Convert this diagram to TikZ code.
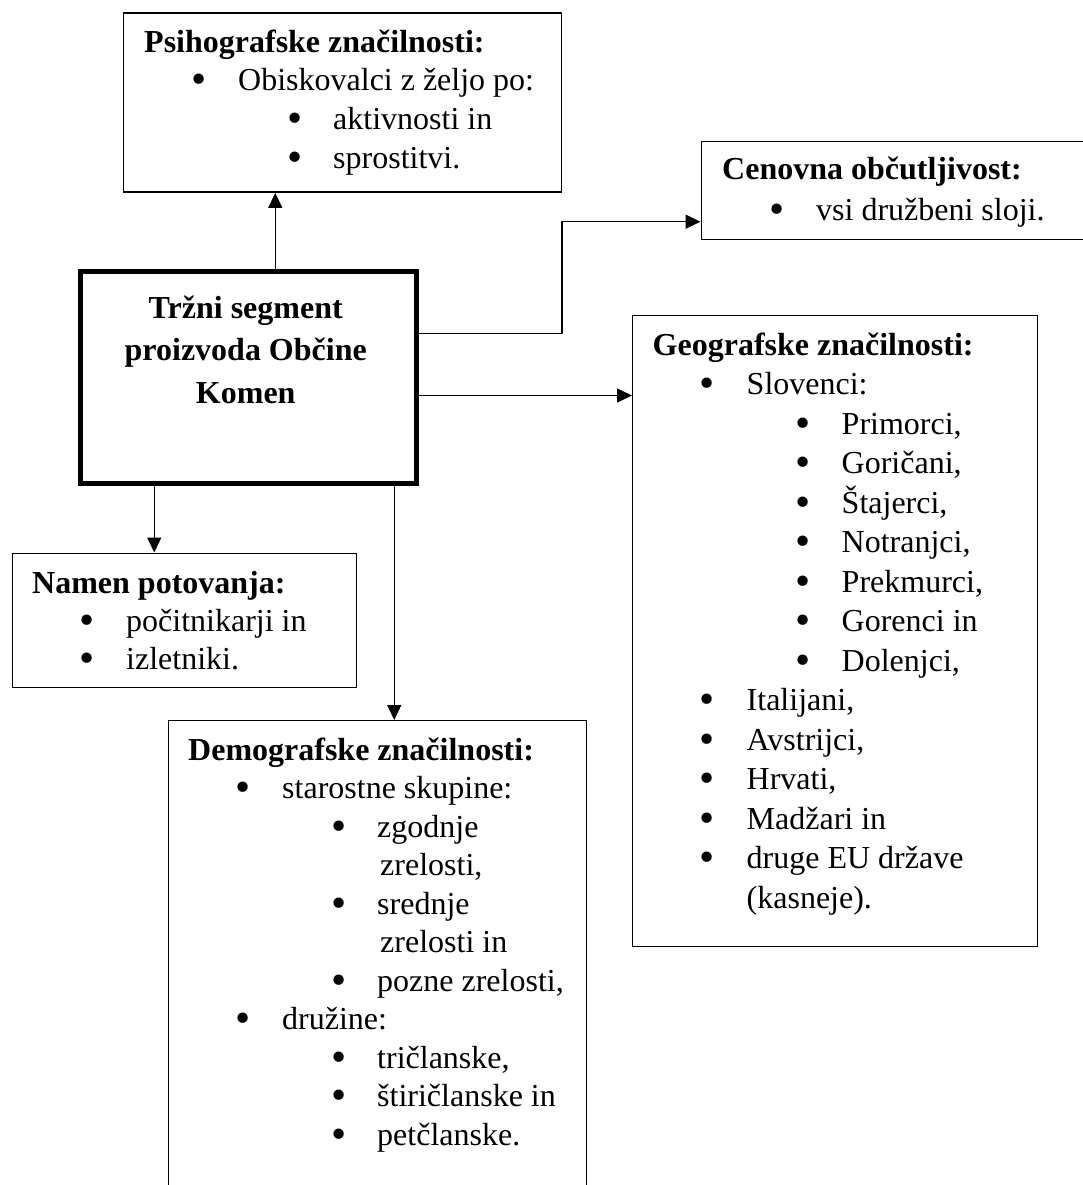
\documentclass[tikz,border=0pt]{standalone}
\usepackage{fontspec}
\usepackage{graphicx}
\setmainfont{Liberation Serif}
\usetikzlibrary{arrows.meta}

\tikzset{
    box/.style={draw, line width=1.4pt, inner sep=0pt, anchor=north west},
    bigbox/.style={draw, line width=5pt, inner sep=0pt, anchor=north west},
    txt/.style={anchor=base west, inner sep=0pt, align=left, font=\fontsize{32}{38.6}\selectfont},
    arr/.style={line width=1.4pt, -{Triangle[length=15pt,width=14pt]}}
}
\newcommand{\blt}{\smash{\raisebox{-3pt}{\scalebox{1.35}{•}}}}
\newcommand{\lvlone}[1]{\hspace*{47pt}\makebox[47pt][l]{\blt}#1}
\newcommand{\lvltwo}[1]{\hspace*{143pt}\makebox[46pt][l]{\blt}#1}

\begin{document}
\begin{tikzpicture}[x=1pt,y=-1pt]
        \useasboundingbox (0,0) rectangle (1083,1185);
        \node[box, minimum width=438pt, minimum height=179pt] (psiho) at (122.5,12.5) {};
        \node[box, minimum width=420pt, minimum height=98pt] (cenov) at (700.5,141) {};
        \node[bigbox, minimum width=335.5pt, minimum height=212pt] (tsp) at (78,268.5) {};
        \node[box, minimum width=405pt, minimum height=631pt] (geo) at (632,315) {};
        \node[box, minimum width=344pt, minimum height=134.5pt] (namen) at (11.5,552.5) {};
        \node[box, minimum width=418pt, minimum height=500pt] (demo) at (168,720) {};

        % text nodes sit on the baseline of their last line
        \node[txt] (psihoT) at (144,168) {\textbf{Psihografske značilnosti:}\\ \lvlone{Obiskovalci z željo po:}\\ \lvltwo{aktivnosti in}\\ \lvltwo{sprostitvi.}};
        \node[txt, font=\fontsize{32}{40}\selectfont] (cenovT) at (722,220) {\textbf{Cenovna občutljivost:}\\ \lvlone{vsi družbeni sloji.}};
        \node[anchor=base, inner sep=0pt, align=center, font=\bfseries\fontsize{32}{42.5}\selectfont] (tspT) at (245.75,403) {Tržni segment\\ proizvoda Občine\\ Komen};
        \node[txt, font=\fontsize{32}{39.5}\selectfont] (geoT) at (652.5,908) {\textbf{Geografske značilnosti:}\\ \lvlone{Slovenci:}\\
            \lvltwo{Primorci,}\\ \lvltwo{Goričani,}\\ \lvltwo{Štajerci,}\\ \lvltwo{Notranjci,}\\ \lvltwo{Prekmurci,}\\ \lvltwo{Gorenci in}\\ \lvltwo{Dolenjci,}\\
            \lvlone{Italijani,}\\ \lvlone{Avstrijci,}\\ \lvlone{Hrvati,}\\ \lvlone{Madžari in}\\ \lvlone{druge EU države}\\ \hspace*{94pt}(kasneje).};
        \node[txt, font=\fontsize{32}{38}\selectfont] (namenT) at (32,669) {\textbf{Namen potovanja:}\\ \lvlone{počitnikarji in}\\ \lvlone{izletniki.}};
        \node[txt, font=\fontsize{32}{38.5}\selectfont] (demoT) at (188,1145) {\textbf{Demografske značilnosti:}\\ \lvlone{starostne skupine:}\\
            \lvltwo{zgodnje}\\ \hspace*{192pt}zrelosti,\\ \lvltwo{srednje}\\ \hspace*{192pt}zrelosti in\\ \lvltwo{pozne zrelosti,}\\
            \lvlone{družine:}\\ \lvltwo{tričlanske,}\\ \lvltwo{štiričlanske in}\\ \lvltwo{petčlanske.}};

        \draw[arr] ([xshift=27pt]tsp.north) -- ([xshift=27pt]tsp.north |- psiho.south);
        \draw[arr] ([yshift=43.5pt]tsp.east) -- ++(143.5,0) |- ([yshift=-31pt]cenov.west);
        \draw[arr] ([yshift=-18.5pt]tsp.east) -- ([yshift=-18.5pt]tsp.east -| geo.west);
        \draw[arr] ([xshift=-94pt]tsp.south) -- ([xshift=-94pt]tsp.south |- namen.north);
        \draw[arr] ([xshift=146pt]tsp.south) -- ([xshift=146pt]tsp.south |- demo.north);
    \end{tikzpicture}
\end{document}
